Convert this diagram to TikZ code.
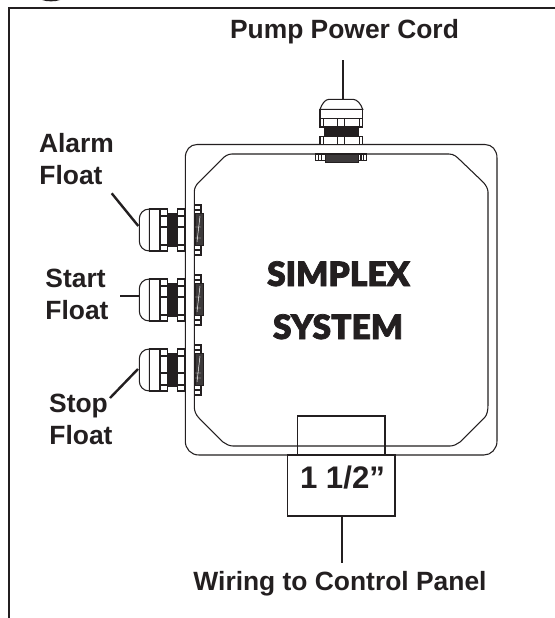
\documentclass[tikz,border=0pt]{standalone}
\usepackage{fontspec}
\setmainfont{Liberation Sans}
\newfontfamily\heavyfont[FakeBold=2.2]{Lato Black}
\definecolor{ink}{HTML}{231F20}
\tikzset{
  x=0.75pt,y=-0.75pt,
  labeltext/.style={font=\bfseries\fontsize{19.8}{22}\selectfont,text=ink,inner sep=0pt,anchor=base},
  brandtext/.style={font=\heavyfont\fontsize{25.2}{27}\selectfont,text=ink,inner sep=0pt,anchor=base},
  sizetext/.style={font=\bfseries\fontsize{23.4}{26}\selectfont,text=ink,inner sep=0pt,anchor=base},
  frameline/.style={draw=ink,line width=2pt},
  leader/.style={draw=ink,line width=1.8pt},
  boxline/.style={draw=ink,line width=0.8pt},
  partline/.style={draw=ink,line width=0.8pt,fill=white},
  threads/.style={fill=ink,draw=ink,line width=0.3pt},
  darkthreads/.style={fill=ink!88,draw=ink,line width=0.4pt},
}
% side cable gland: #1 centre height, #2 offset of its middle band line
\newcommand{\sidegland}[2]{%
  \begin{scope}[shift={(0,#1)}]
    \path[partline] (149.3,-21) .. controls (143,-21) and (139.3,-16) .. (139.3,-11) -- (139.3,11) .. controls (139.3,16) and (143,21) .. (149.3,21) -- cycle;
    \path[partline] (149.3,-21) rectangle (160,21);
    \path[threads] (167.7,-17) rectangle (177,16);
    \path[partline] (160,-21) rectangle (167.7,21);
    \path[partline] (177.3,-21) rectangle (185,21);
    \draw[boxline] (160,-14) -- (167.7,-14) (160,#2) -- (167.7,#2) (160,15) -- (167.7,15);
    \draw[boxline] (177.3,-14) -- (185,-14) (177.3,#2) -- (185,#2) (177.3,15) -- (185,15);
    \path[partline] (194.3,-25) rectangle (201,25);
    \draw[boxline] (194.3,-20) -- (201,-20) (194.3,20) -- (201,20);
    \path[darkthreads] (195,-17) rectangle (203.4,15.5);
    \draw[white,line width=0.35pt] (195,#2) -- (201,#2) (195,8) -- (201,8) (197,12) -- (200,-14);
  \end{scope}}
\begin{document}
\begin{tikzpicture}
\useasboundingbox (0,0) rectangle (555,618);
\fill[white] (0,0) rectangle (555,618);
% frame
\fill[ink] (42,0) .. controls (47,1.8) and (55,1.8) .. (60,0) -- cycle;
\draw[frameline] (9,618) -- (9,8) -- (555,8);
% box
\draw[boxline] (197,144.5) -- (485,144.5) .. controls (492,144.5) and (497,150) .. (497,158) -- (497,441) .. controls (497,449) and (491,455) .. (484,455) -- (199,455) .. controls (191,455) and (185.3,449) .. (185.3,441) -- (185.3,158) .. controls (185.3,150) and (190,144.5) .. (197,144.5) -- cycle;
\draw[boxline] (232,154) -- (449,154) .. controls (454,154) and (457,157) .. (460,160) -- (483,182) .. controls (486,185) and (488,189) .. (488,192) -- (488,405) .. controls (488,410) and (487,415) .. (485,417) -- (460,442) .. controls (457,444) and (454,446) .. (450,446) -- (233,446) .. controls (229,446) and (226,444) .. (223,442) -- (199,418) .. controls (196,415) and (194.3,411) .. (194.3,407) -- (194.3,192) .. controls (194.3,188) and (196,185) .. (199,182) -- (222,159) .. controls (225,156) and (228,154) .. (232,154) -- cycle;
% top gland
\path[partline] (320,109.3) .. controls (322,104) and (325,99.3) .. (329,99.3) -- (353,99.3) .. controls (357,99.3) and (361,104) .. (362.7,109.3) -- cycle;
\path[partline] (320,109.3) rectangle (362.7,118.7);
\path[partline] (320,118.7) rectangle (362.7,127);
\draw[boxline] (323.3,118.7) -- (323.3,127) (337.3,118.7) -- (337.3,127) (344.3,118.7) -- (344.3,127) (359.3,118.7) -- (359.3,127);
\path[threads] (324.3,127) rectangle (358.3,136.3);
\path[partline] (320,136.3) rectangle (362.7,144.5);
\draw[boxline] (323.3,136.3) -- (323.3,144.5) (337.3,136.3) -- (337.3,144.5) (344.3,136.3) -- (344.3,144.5) (359.3,136.3) -- (359.3,144.5);
\path[partline] (315.3,154) rectangle (366.7,160.7);
\draw[boxline] (318.3,154) -- (318.3,160.7) (321.7,154) -- (321.7,160.7) (363.7,154) -- (363.7,160.7) (361,154) -- (361,160.7);
\path[darkthreads] (325,154) rectangle (358.3,162.7);
% side glands
\sidegland{230}{-3}
\sidegland{300}{-3}
\sidegland{370}{3}
% bottom hub
\path[boxline] (297.3,416) rectangle (385,455);
\path[boxline] (287.7,455) rectangle (395,516);
% texts
\node[labeltext] (pump) at (344.5,38) {Pump Power Cord};
\node[labeltext] (alarm1) at (76.5,152) {Alarm};
\node[labeltext] (alarm2) at (71,184) {Float};
\node[labeltext] (start1) at (75.5,287) {Start};
\node[labeltext] (start2) at (77,319) {Float};
\node[labeltext] (stop1) at (78.5,412) {Stop};
\node[labeltext] (stop2) at (81,444) {Float};
\node[labeltext] (wiring) at (340,590) {Wiring to Control Panel};
\node[sizetext] (size) at (342.5,488) {1 1/2”};
\node[brandtext] (simplex) at (338.5,286) {SIMPLEX};
\node[brandtext] (system) at (338,339) {SYSTEM};
% leaders
\coordinate (cordEnd) at (342.7,99.3);
\coordinate (cordTop) at (342.7,60);
\draw[leader] (cordTop) -- (cordEnd);
\coordinate (alarmA) at (111.7,193.3);
\coordinate (alarmB) at (138.3,226);
\draw[leader] (alarmA) -- (alarmB);
\coordinate (startA) at (120,295.7);
\coordinate (startB) at (139.3,295.7);
\draw[leader] (startA) -- (startB);
\coordinate (stopA) at (138,369);
\coordinate (stopB) at (110,398);
\draw[leader] (stopA) -- (stopB);
\coordinate (wireA) at (341.7,516);
\coordinate (wireB) at (341.7,563);
\draw[leader] (wireA) -- (wireB);
\end{tikzpicture}
\end{document}
